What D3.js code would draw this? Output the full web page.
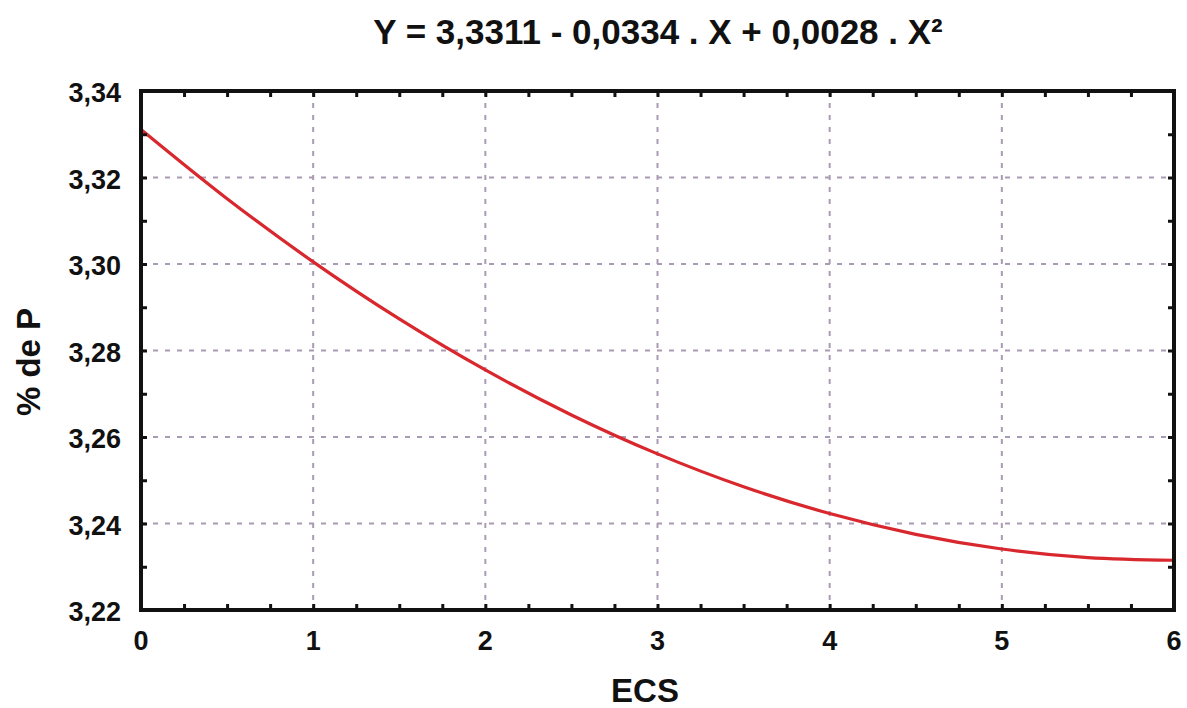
<!DOCTYPE html>
<html><head><meta charset="utf-8">
<script src="https://cdn.jsdelivr.net/npm/d3@7"></script>
<style>body{margin:0;background:#fff}svg{display:block}text{font-family:"Liberation Sans",Arial,sans-serif;font-weight:bold;fill:#111}</style>
</head><body>
<script>
const title = "Y = 3,3311 - 0,0334 . X + 0,0028 . X²";
const xLabel = "ECS";
const yLabel = "% de P";
const xTicks = [0,1,2,3,4,5,6];
const yTicks = [3.22,3.24,3.26,3.28,3.30,3.32,3.34];
// values
const curveX = [0,0.5,1,1.5,2,2.5,3,3.5,4,4.5,5,5.5,6];
const curveY = [3.3311,3.3151,3.3005,3.2873,3.2755,3.2651,3.2561,3.2485,3.2423,3.2375,3.2341,3.2321,3.2315];

const W=1187,H=708;
const m={l:141,r:1174,t:91,b:610};
const svg=d3.select("body").append("svg").attr("width",W).attr("height",H);
const x=d3.scaleLinear().domain([0,6]).range([m.l,m.r]);
const y=d3.scaleLinear().domain([3.22,3.34]).range([m.b,m.t]);
const fmt=d=>d3.format(".2f")(d).replace(".",",");

// grid
const g=svg.append("g");
g.selectAll(".gx").data(xTicks.slice(1,-1)).join("line")
 .attr("x1",d=>x(d)).attr("x2",d=>x(d)).attr("y1",m.t).attr("y2",m.b)
 .attr("stroke","#a99bb3").attr("stroke-width",2).attr("stroke-dasharray","5,7");
g.selectAll(".gy").data(yTicks.slice(1,-1)).join("line")
 .attr("y1",d=>y(d)).attr("y2",d=>y(d)).attr("x1",m.l).attr("x2",m.r)
 .attr("stroke","#a99bb3").attr("stroke-width",2).attr("stroke-dasharray","5,7");

// curve
const pts=curveX.map((v,i)=>[v,curveY[i]]);
svg.append("path").datum(pts)
 .attr("d",d3.line().x(d=>x(d[0])).y(d=>y(d[1])).curve(d3.curveCatmullRom))
 .attr("fill","none").attr("stroke","#d9272e").attr("stroke-width",3.2);

// axes (inward ticks)
const xMinor=d3.range(0,6.001,0.25);
const yMinor=d3.range(3.22,3.3401,0.01);
function ax(axisFn,scale,vals,size,tr){
  const a=svg.append("g").attr("transform",tr)
   .call(axisFn(scale).tickValues(vals).tickSize(size).tickFormat(""));
  a.select(".domain").remove();
  a.selectAll(".tick line").attr("stroke","#111").attr("stroke-width",3);
  return a;
}
ax(d3.axisBottom,x,xMinor,-6,`translate(0,${m.b})`);
ax(d3.axisTop,x,xMinor,-6,`translate(0,${m.t})`);
ax(d3.axisLeft,y,yMinor,-6,`translate(${m.l},0)`);
ax(d3.axisRight,y,yMinor,-6,`translate(${m.r},0)`);

svg.append("rect").attr("x",m.l).attr("y",m.t).attr("width",m.r-m.l).attr("height",m.b-m.t)
 .attr("fill","none").attr("stroke","#111").attr("stroke-width",4);

// tick labels
svg.selectAll(".xl").data(xTicks).join("text")
 .attr("x",d=>x(d)).attr("y",650).attr("text-anchor","middle").attr("font-size",27).text(d=>d);
svg.selectAll(".yl").data(yTicks).join("text")
 .attr("x",121).attr("y",d=>y(d)+11).attr("text-anchor","end").attr("font-size",27).text(fmt);

svg.append("text").attr("x",658).attr("y",44).attr("text-anchor","middle").attr("font-size",35).text(title);
svg.append("text").attr("x",645).attr("y",702).attr("text-anchor","middle").attr("font-size",33).text(xLabel);
svg.append("text").attr("transform","translate(40,362) rotate(-90)").attr("text-anchor","middle").attr("font-size",33).text(yLabel);
</script>
</body></html>
